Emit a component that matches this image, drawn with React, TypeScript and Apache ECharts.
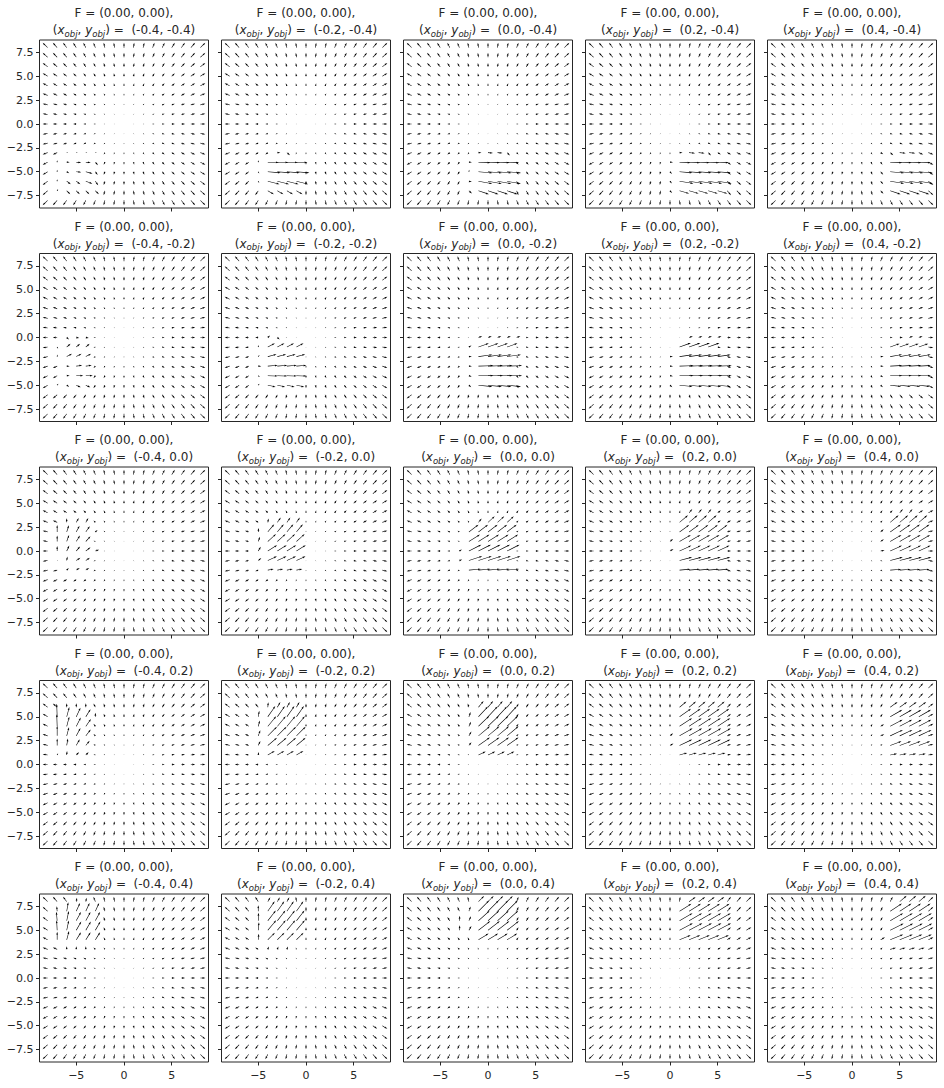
import React, { useEffect, useRef } from "react";
import * as echarts from "echarts";

// ---------- data ----------
const GRID = [-8, -7, -6, -5, -4, -3, -2, -1, 0, 1, 2, 3, 4, 5, 6, 7, 8];
const X_OBJ = [-0.4, -0.2, 0.0, 0.2, 0.4];
const Y_OBJ = [-0.4, -0.2, 0.0, 0.2, 0.4];
const FORCE = [0.0, 0.0];
const X_TICKS = [-5, 0, 5];
const Y_TICKS = [-7.5, -5, -2.5, 0, 2.5, 5, 7.5];
// background field: arrow = position vector, drawn at this many px per unit
const BASE_PX_PER_UNIT = 0.62;

// disturbed arrows, per panel: [y, xFrom, xTo, angleDeg, lengthPx]
const DIST_Y_M04 = [
  [[-3,-6,-3,0,1.5],[-4,-7,-7,90,2],[-4,-6,-6,0,3],[-4,-5,-4,-5,5],[-4,-3,-3,-50,4],
   [-5,-7,-7,90,2],[-5,-6,-6,-30,3],[-5,-5,-5,-5,5],[-5,-4,-4,-15,7],[-5,-3,-3,-55,4],
   [-6,-7,-7,90,2],[-6,-6,-5,-35,5],[-6,-4,-4,-20,7],[-6,-3,-3,-55,5],
   [-7,-7,-7,60,2],[-7,-6,-3,-45,5]],
  [[-3,-3,-3,0,3],[-3,-2,-2,-40,4],
   [-4,-5,-5,80,2],[-4,-4,-1,-2,11],
   [-5,-5,-5,-60,2],[-5,-4,-1,-5,13],
   [-6,-5,-5,-60,2],[-6,-4,-1,-14,12],
   [-7,-4,-1,-30,7]],
  [[-3,-1,-1,0,3],[-3,0,1,-5,5],[-3,2,2,-45,4],
   [-4,-2,-2,0,3],[-4,-1,2,-3,12],
   [-5,-2,-2,80,2],[-5,-1,2,-5,14],
   [-6,-2,-2,-10,3],[-6,-1,2,-10,14],
   [-7,-2,-2,-40,4],[-7,-1,2,-18,11]],
  [[-3,1,1,0,3],[-3,2,3,-5,6],[-3,4,4,-45,4],
   [-4,0,0,0,3],[-4,1,5,-3,11],
   [-5,0,0,-50,3],[-5,1,5,-5,13],
   [-6,0,0,-50,3],[-6,1,5,-9,14],
   [-7,0,0,-45,3],[-7,1,5,-16,10]],
  [[-3,3,3,-30,3],[-3,4,4,-40,4],[-3,5,6,-5,6],
   [-4,4,7,-3,12],
   [-5,3,3,-50,4],[-5,4,7,-5,14],
   [-6,3,3,-50,4],[-6,4,7,-9,14],
   [-7,3,3,-45,4],[-7,4,7,-18,11]],
];

const DIST_Y_M02 = [
  [[0,-6,-6,-40,3],[0,-5,-4,-10,3],
   [-1,-7,-7,-60,2],[-1,-6,-4,40,5],
   [-2,-7,-7,80,2],[-2,-6,-4,28,6],
   [-3,-6,-6,0,3],[-3,-5,-4,8,6],
   [-4,-6,-6,0,3],[-4,-5,-4,0,7],
   [-5,-7,-7,50,2],[-5,-6,-6,-30,3],[-5,-5,-4,-25,5]],
  [[0,-4,-4,40,3],[0,-3,-3,-40,3],
   [-1,-5,-5,80,2],[-1,-4,-1,28,8],
   [-2,-5,-5,50,2],[-2,-4,-1,15,9],
   [-3,-5,-5,0,3],[-3,-4,-1,5,10],
   [-4,-5,-5,-40,2],[-4,-4,-1,-2,10],
   [-5,-5,-5,50,2],[-5,-4,-1,-12,8]],
  [[0,-1,3,20,4],
   [-1,-2,-2,30,3],[-1,-1,2,20,11],
   [-2,-2,-2,0,3],[-2,-1,2,8,14],
   [-3,-2,-2,0,3],[-3,-1,2,2,15],
   [-4,-2,-2,-20,3],[-4,-1,2,0,15],
   [-5,-2,-2,-40,3],[-5,-1,2,-6,14]],
  [[0,2,5,20,4],
   [-1,1,4,20,12],
   [-2,0,0,0,3],[-2,1,5,8,13],
   [-3,0,0,0,3],[-3,1,5,2,14],
   [-4,0,0,-10,3],[-4,1,5,0,14],
   [-5,0,0,-40,3],[-5,1,5,-6,13]],
  [[0,6,7,20,4],
   [-1,4,7,20,10],
   [-2,3,3,0,3],[-2,4,7,10,12],
   [-3,3,3,0,3],[-3,4,7,3,12],
   [-4,3,3,-30,3],[-4,4,7,0,12],
   [-5,3,3,-40,3],[-5,4,7,-6,11]],
];

const DIST_Y_0 = [
  [[3,-6,-6,90,4],[3,-5,-4,60,5],
   [2,-7,-7,90,7],[2,-6,-6,72,7],[2,-5,-5,62,7],[2,-4,-4,55,7],[2,-3,-3,40,3],
   [1,-7,-7,90,6],[1,-6,-6,70,7],[1,-5,-5,58,7],[1,-4,-4,48,7],
   [0,-7,-7,90,5],[0,-6,-6,65,6],[0,-5,-5,50,6],[0,-4,-4,38,6],[0,-3,-3,20,4],
   [-1,-7,-7,0,1],[-1,-6,-6,80,4],[-1,-5,-4,35,5],
   [-2,-6,-6,45,3],[-2,-5,-4,30,4]],
  [[3,-4,-4,80,4],[3,-3,-1,55,6],
   [2,-5,-5,85,4],[2,-4,-1,50,10],
   [1,-5,-5,70,5],[1,-4,-1,42,11],
   [0,-5,-5,60,5],[0,-4,-1,32,11],
   [-1,-5,-5,40,4],[-1,-4,-1,25,10],
   [-2,-4,-1,10,6]],
  [[3,-1,-1,50,5],[3,0,2,42,9],
   [2,-2,2,37,12],
   [1,-2,2,32,13],
   [0,-3,-3,30,3],[0,-2,2,27,14],
   [-1,-3,-3,20,3],[-1,-2,2,18,14],
   [-2,-2,2,5,12]],
  [[4,2,4,50,5],
   [3,1,4,40,11],
   [2,1,5,36,12],
   [1,0,0,40,4],[1,1,5,30,13],
   [0,0,0,30,4],[0,1,5,25,13],
   [-1,1,5,15,13],
   [-2,1,5,5,11]],
  [[4,5,6,50,5],
   [3,4,7,40,11],
   [2,3,3,40,4],[2,4,7,35,13],
   [1,3,3,35,4],[1,4,7,30,13],
   [0,3,3,10,4],[0,4,7,25,13],
   [-1,4,7,15,13],
   [-2,4,7,4,11]],
];

const DIST_Y_P02 = [
  [[6,-6,-4,90,4],
   [5,-7,-7,92,13],[5,-6,-6,75,10],[5,-5,-5,65,10],[5,-4,-4,58,9],[5,-3,-3,90,4],
   [4,-7,-7,92,12],[4,-6,-6,75,10],[4,-5,-5,63,10],[4,-4,-4,55,9],
   [3,-7,-7,90,10],[3,-6,-6,75,9],[3,-5,-5,62,9],[3,-4,-4,52,8],
   [2,-7,-7,90,7],[2,-6,-6,80,7],[2,-5,-5,60,7],[2,-4,-4,50,6],
   [1,-7,-7,60,2],[1,-6,-6,85,4],[1,-5,-4,45,4]],
  [[6,-4,-4,85,5],[6,-3,-1,60,6],
   [5,-5,-5,80,6],[5,-4,-1,55,13],
   [4,-5,-5,75,6],[4,-4,-1,50,13],
   [3,-5,-5,70,6],[3,-4,-1,45,13],
   [2,-5,-5,65,5],[2,-4,-1,40,12],
   [1,-5,-5,80,3],[1,-4,-1,30,8]],
  [[6,-1,2,50,8],
   [5,-2,-2,70,5],[5,-1,2,47,14],
   [4,-2,-2,65,5],[4,-1,2,44,15],
   [3,-2,-2,60,5],[3,-1,2,40,15],
   [2,-2,-2,50,4],[2,-1,2,35,14],
   [1,-1,2,25,8]],
  [[6,1,5,40,9],
   [5,1,5,35,14],
   [4,1,5,33,15],
   [3,0,0,40,4],[3,1,5,30,15],
   [2,0,0,30,4],[2,1,5,25,14],
   [1,1,5,15,8]],
  [[6,4,7,35,9],
   [5,4,7,30,14],
   [4,3,3,30,4],[4,4,7,28,14],
   [3,3,3,25,4],[3,4,7,25,14],
   [2,4,7,20,12],
   [1,4,7,10,7]],
];

const DIST_Y_P04 = [
  [[8,-5,-4,80,4],
   [7,-7,-7,95,5],[7,-6,-6,80,9],[7,-5,-3,65,9],
   [6,-7,-7,95,9],[6,-6,-6,78,10],[6,-5,-3,62,10],
   [5,-7,-7,93,10],[5,-6,-6,78,10],[5,-5,-3,60,10],
   [4,-7,-7,90,8],[4,-6,-6,75,9],[4,-5,-3,58,9],
   [3,-6,-4,90,3]],
  [[8,-4,-2,60,5],
   [7,-5,-5,90,6],[7,-4,-1,55,12],
   [6,-5,-5,88,8],[6,-4,-1,52,13],
   [5,-5,-5,85,8],[5,-4,-1,50,13],
   [4,-5,-5,85,6],[4,-4,-1,45,10],
   [3,-4,-2,70,3]],
  [[8,-1,2,45,8],
   [7,-2,-2,70,5],[7,-1,2,45,15],
   [6,-3,-3,85,5],[6,-2,-2,65,5],[6,-1,2,42,15],
   [5,-3,-3,85,5],[5,-2,-2,60,5],[5,-1,2,38,15],
   [4,-1,2,32,12]],
  [[8,2,5,35,8],
   [7,1,5,32,14],
   [6,1,5,30,15],
   [5,1,5,28,15],
   [4,1,5,22,12]],
  [[8,5,7,40,9],
   [7,4,7,33,14],
   [6,4,7,30,15],
   [5,4,7,27,15],
   [4,3,3,30,5],[4,4,7,22,14],
   [3,4,7,15,6]],
];

const DISTURBANCE_BY_ROW = [DIST_Y_M04, DIST_Y_M02, DIST_Y_0, DIST_Y_P02, DIST_Y_P04];

// ---------- layout / style ----------
const PLOT_LEFT0 = 39.5;
const COL_STEP = 182;
const PLOT_W = 169;
const PLOT_TOP0 = 40;
const ROW_STEP = 213.5;
const PLOT_H = 168;
const X_LIM = 8.85;
const Y_LIM = 8.8;
const INK = "#262626";
const FONT = "DejaVu Sans";

const SHAFT = 0.6;
const HEAD_W = 3;
const HEAD_L = 5;
const HEAD_AX = 4.5;

function arrowPts(L: number): number[][] {
  const w = SHAFT;
  const hl = HEAD_L * w, hal = HEAD_AX * w, hw = HEAD_W * w;
  if (L >= hl) {
    return [[0, -w / 2], [L - hal, -w / 2], [L - hl, -hw / 2], [L, 0], [L - hl, hw / 2], [L - hal, w / 2], [0, w / 2]];
  }
  const k = L / hl;
  return [[0, (-w / 2) * k], [(hl - hal) * k, (-w / 2) * k], [0, (-hw / 2) * k], [L, 0], [0, (hw / 2) * k], [(hl - hal) * k, (w / 2) * k], [0, (w / 2) * k]];
}

function panelData(r: number, c: number): number[][] {
  const specs = DISTURBANCE_BY_ROW[r][c];
  const map: Record<string, number[]> = {};
  specs.forEach((s) => {
    const [y, x0, x1, ang, len] = s;
    for (const gx of GRID) if (gx >= x0 && gx <= x1) map[gx + "," + y] = [ang, len];
  });
  const out: number[][] = [];
  for (const gy of GRID) {
    for (const gx of GRID) {
      const d = map[gx + "," + gy];
      if (d) out.push([gx, gy, d[0], d[1]]);
      else {
        const ang = (Math.atan2(gy, gx) * 180) / Math.PI;
        out.push([gx, gy, ang, Math.hypot(gx, gy) * BASE_PX_PER_UNIT]);
      }
    }
  }
  return out;
}

const renderArrow = (params: any, api: any) => {
  const x = api.value(0), y = api.value(1);
  const ang = (api.value(2) * Math.PI) / 180;
  const L = api.value(3);
  if (!(L > 0.3)) return { type: "group", children: [] };
  const p = api.coord([x, y]);
  const dx = Math.cos(ang), dy = -Math.sin(ang);
  const nx = -dy, ny = dx;
  const points = arrowPts(L).map(([t, q]) => [p[0] + t * dx + q * nx, p[1] + t * dy + q * ny]);
  return { type: "polygon", shape: { points }, style: { fill: "#000", stroke: "none" }, silent: true };
};

const fmtY = (v: number) => (v < 0 ? "\u2212" + (-v).toFixed(1) : v.toFixed(1));
const fmtX = (v: number) => (v < 0 ? "\u2212" + String(-v) : String(v));

function buildOption() {
  const grid: any[] = [];
  const xAxis: any[] = [];
  const yAxis: any[] = [];
  const series: any[] = [];
  const graphic: any[] = [];
  for (let r = 0; r < 5; r++) {
    for (let c = 0; c < 5; c++) {
      const i = r * 5 + c;
      const left = PLOT_LEFT0 + COL_STEP * c;
      const top = PLOT_TOP0 + ROW_STEP * r;
      grid.push({ left, top, width: PLOT_W, height: PLOT_H, show: true, borderColor: INK, borderWidth: 1, backgroundColor: "transparent", containLabel: false });
      xAxis.push({
        gridIndex: i, type: "value", min: -X_LIM, max: X_LIM, position: "bottom",
        axisLine: { show: false, onZero: false },
        splitLine: { show: false },
        axisTick: { show: true, length: 3.5, inside: false, customValues: X_TICKS, lineStyle: { color: INK, width: 1 } },
        axisLabel: { show: r === 4, customValues: X_TICKS, formatter: fmtX, fontSize: 11, fontFamily: FONT, color: INK, margin: 8 },
      });
      yAxis.push({
        gridIndex: i, type: "value", min: -Y_LIM, max: Y_LIM, position: "left",
        axisLine: { show: false, onZero: false },
        splitLine: { show: false },
        axisTick: { show: true, length: 3.5, inside: false, customValues: Y_TICKS, lineStyle: { color: INK, width: 1 } },
        axisLabel: { show: c === 0, customValues: Y_TICKS, formatter: fmtY, fontSize: 11, fontFamily: FONT, color: INK, margin: 6 },
      });
      series.push({
        type: "custom", coordinateSystem: "cartesian2d", xAxisIndex: i, yAxisIndex: i,
        renderItem: renderArrow, data: panelData(r, c), encode: { x: 0, y: 1 }, silent: true, clip: false,
        dimensions: ["x", "y", "ang", "len"],
      });
      const cx = left + PLOT_W / 2;
      graphic.push({
        type: "text", x: cx, y: top - 27, silent: true,
        style: { text: `F = (${FORCE[0].toFixed(2)}, ${FORCE[1].toFixed(2)}),`, fill: INK, fontSize: 12, fontFamily: FONT, align: "center", verticalAlign: "middle" },
      });
      const xs = X_OBJ[c].toFixed(1);
      const ys = Y_OBJ[r].toFixed(1);
      graphic.push({
        type: "text", x: cx, y: top - 10, silent: true,
        style: {
          text: `{n|(}{i|x}{s|obj}{n|, }{i|y}{s|obj}{n|) =  (${xs}, ${ys})}`,
          align: "center", verticalAlign: "middle", fill: INK, fontSize: 12, fontFamily: FONT,
          rich: {
            n: { fill: INK, fontSize: 12, fontFamily: FONT, lineHeight: 16, verticalAlign: "middle" },
            i: { fill: INK, fontSize: 12, fontFamily: FONT, fontStyle: "italic", lineHeight: 16, verticalAlign: "middle" },
            s: { fill: INK, fontSize: 8.5, fontFamily: FONT, fontStyle: "italic", lineHeight: 9, verticalAlign: "bottom" },
          },
        },
      });
    }
  }
  return { animation: false, backgroundColor: "#ffffff", grid, xAxis, yAxis, series, graphic };
}

export default function App() {
  const ref = useRef<HTMLDivElement>(null);
  useEffect(() => {
    if (!ref.current) return;
    const chart = echarts.init(ref.current, undefined, { renderer: "svg" });
    chart.setOption(buildOption() as any);
    return () => chart.dispose();
  }, []);
  return <div ref={ref} style={{ position: "absolute", left: 0, top: 0, width: 944, height: 1088 }} />;
}
